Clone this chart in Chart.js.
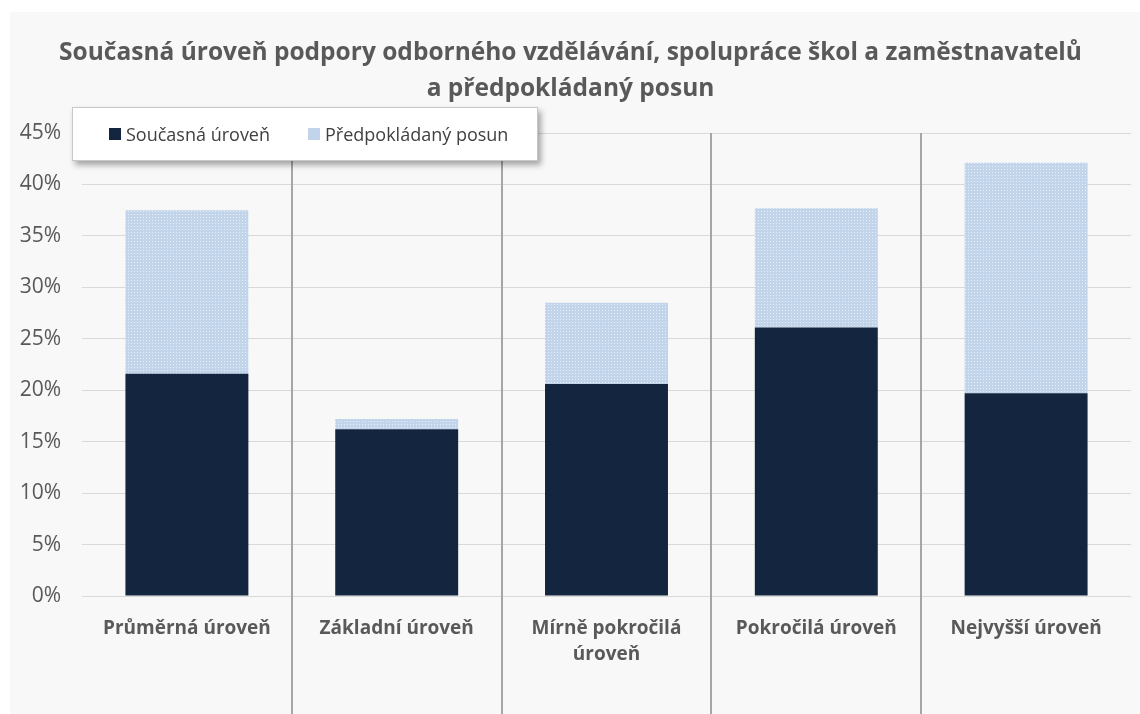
<!DOCTYPE html>
<html>
<head>
<meta charset="utf-8">
<script src="https://cdn.jsdelivr.net/npm/chart.js@4"></script>
<style>
    body { margin: 0; background: #ffffff; }
    #panel { position: absolute; left: 10px; top: 12px; width: 1130px; height: 702px; background: #f8f8f8; }
    #legenda {
        position: absolute; left: 72px; top: 107px; width: 466px; height: 54px;
        background: #ffffff; border: 1px solid #c8c8c8;
        box-shadow: 3px 4px 6px rgba(0, 0, 0, 0.35);
        font-family: 'Open Sans', sans-serif; font-size: 18px; color: #404040;
        box-sizing: border-box;
    }
    .item { position: absolute; top: 0; height: 52px; display: flex; align-items: center; white-space: nowrap; }
    .box { width: 12px; height: 12px; margin-right: 5px; flex-shrink: 0; }
</style>
</head>
<body>
<div id="panel"><canvas id="myChart" width="1130" height="702"></canvas></div>
<div id="legenda"></div>
<script>
var kategorie = ['Průměrná úroveň', 'Základní úroveň', ['Mírně pokročilá', 'úroveň'], 'Pokročilá úroveň', 'Nejvyšší úroveň'];
var soucasna = [21.6, 16.2, 20.6, 26.1, 19.7];
var posun = [15.9, 1.0, 7.9, 11.6, 22.4];
var nazvySerii = ['Současná úroveň', 'Předpokládaný posun'];
var titulek = ['Současná úroveň podpory odborného vzdělávání, spolupráce škol a zaměstnavatelů', 'a předpokládaný posun'];

function vzorek() {
    var c = document.createElement('canvas');
    c.width = 3;
    c.height = 3;
    var g = c.getContext('2d');
    g.fillStyle = '#c1d4ea';
    g.fillRect(0, 0, 3, 3);
    g.fillStyle = '#e6eef8';
    g.fillRect(1, 1, 1, 1);
    return g.createPattern(c, 'repeat');
}

var tmava = '#13253f';
var vzor = vzorek();

// legenda jako html, prekryva graf
var leg = document.getElementById('legenda');
leg.innerHTML =
    '<div class="item" style="left:36px"><div class="box" style="background:' + tmava + '"></div>' + nazvySerii[0] + '</div>' +
    '<div class="item" style="left:235px"><div class="box" style="background:#c1d4ea"></div>' + nazvySerii[1] + '</div>';

// svisle oddelovace mezi kategoriemi
const oddelovace = {
    id: 'oddelovace',
    beforeDatasetsDraw(chart) {
        var x = chart.scales.x;
        var ctx = chart.ctx;
        ctx.save();
        ctx.strokeStyle = '#a6a6a6';
        ctx.lineWidth = 2;
        for (var i = 0; i < kategorie.length - 1; i++) {
            var px = Math.round((x.getPixelForValue(i) + x.getPixelForValue(i + 1)) / 2);
            ctx.beginPath();
            ctx.moveTo(px, chart.chartArea.top);
            ctx.lineTo(px, chart.height);
            ctx.stroke();
        }
        ctx.restore();
    }
};

Chart.defaults.font.family = "'Open Sans', sans-serif";

var ctx = document.getElementById('myChart').getContext('2d');
var myChart = new Chart(ctx, {
    type: 'bar',
    data: {
        labels: kategorie,
        datasets: [{
            label: nazvySerii[0],
            data: soucasna,
            backgroundColor: tmava,
            barPercentage: 0.586,
            categoryPercentage: 1
        }, {
            label: nazvySerii[1],
            data: posun,
            backgroundColor: vzor,
            barPercentage: 0.586,
            categoryPercentage: 1
        }]
    },
    options: {
        responsive: false,
        animation: false,
        layout: { padding: { left: 0, right: 9, top: 0, bottom: 0 } },
        plugins: {
            legend: { display: false },
            tooltip: { enabled: false },
            title: {
                display: true,
                text: titulek,
                color: '#595959',
                font: { size: 24.5, weight: 'bold', lineHeight: 1.47 },
                padding: { top: 23, bottom: 26 }
            }
        },
        scales: {
            x: {
                stacked: true,
                grid: { display: false },
                border: { display: false },
                ticks: {
                    color: '#595959',
                    font: { size: 19, weight: 'bold', lineHeight: 1.4 },
                    padding: 11,
                    maxRotation: 0
                },
                afterFit: function (s) { s.height = 118; }
            },
            y: {
                stacked: true,
                min: 0,
                max: 45,
                grid: { color: '#d9d9d9', drawTicks: false },
                border: { display: false },
                ticks: {
                    stepSize: 5,
                    color: '#595959',
                    font: { size: 21 },
                    padding: 21,
                    callback: function (v) { return v + '%'; }
                },
                afterFit: function (s) { s.width = 72; }
            }
        }
    },
    plugins: [oddelovace]
});
</script>
</body>
</html>
